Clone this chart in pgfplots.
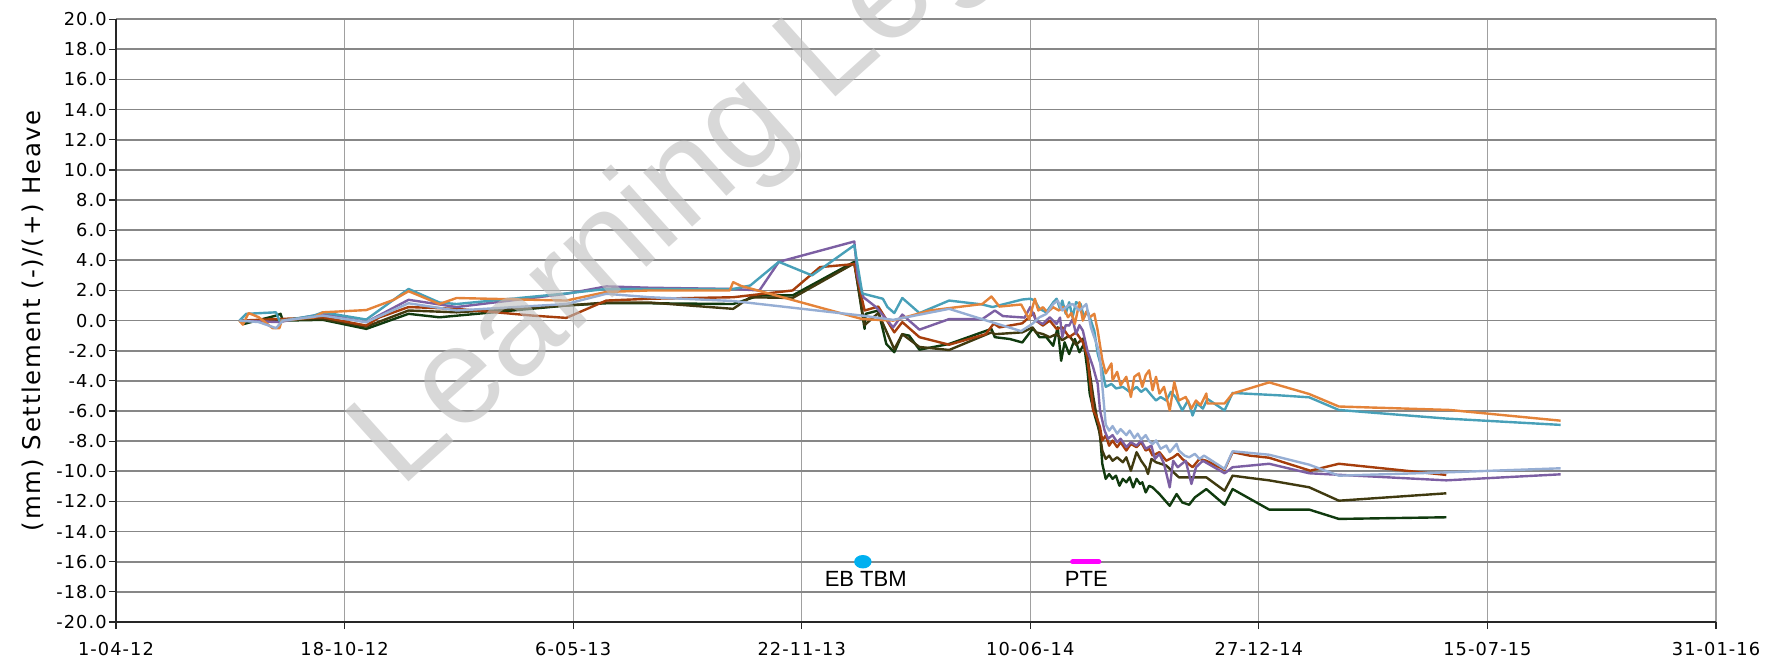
\documentclass[border=0pt]{standalone}
\usepackage{fontspec}
\usepackage{pgfplots}
\pgfplotsset{compat=1.18}
\usetikzlibrary{calc}
\setmainfont{Liberation Sans}
\newfontfamily\tickfont[LetterSpace=6]{DejaVu Sans}
\newfontfamily\labfont[LetterSpace=7]{DejaVu Sans}
\newfontfamily\wmfont{Liberation Sans}
\definecolor{cOrange}{HTML}{E48339}
\definecolor{cTeal}{HTML}{48A0B8}
\definecolor{cPurple}{HTML}{7C5FA3}
\definecolor{cBrown}{HTML}{A63E0C}
\definecolor{cOlive}{HTML}{403A10}
\definecolor{cGreen}{HTML}{103A0E}
\definecolor{cLight}{HTML}{96AED4}
\definecolor{cEB}{HTML}{00B0F0}
\definecolor{cPTE}{HTML}{FF00FF}
\definecolor{hgrid}{RGB}{135,135,135}
\definecolor{vgrid}{RGB}{160,160,160}
\definecolor{wm}{RGB}{190,190,190}
\begin{document}
\begin{tikzpicture}
\begin{axis}[name=ax, at={(0,0)}, anchor=south west, scale only axis,
  width=800pt, height=301.4pt,
  xmin=0, xmax=1400, ymin=-20, ymax=20,
  xtick={0,200,400,600,800,1000,1200,1400},
  xticklabels={1-04-12,18-10-12,6-05-13,22-11-13,10-06-14,27-12-14,15-07-15,31-01-16},
  ytick={-20,-18,-16,-14,-12,-10,-8,-6,-4,-2,0,2,4,6,8,10,12,14,16,18,20},
  yticklabels={-20.0,-18.0,-16.0,-14.0,-12.0,-10.0,-8.0,-6.0,-4.0,-2.0,0.0,2.0,4.0,6.0,8.0,10.0,12.0,14.0,16.0,18.0,20.0},
  axis x line*=bottom, axis y line*=left,
  axis line style={-, black!85, line width=0.7pt},
  tick align=outside, major tick length=3.5pt,
  tick style={black!85, line width=0.6pt},
  xmajorgrids, ymajorgrids,
  x grid style={vgrid, line width=0.6pt},
  y grid style={hgrid, line width=0.85pt},
  ticklabel style={font=\tickfont\fontsize{8.9}{10}\selectfont, text=black},
  xticklabel style={yshift=-3pt},
  yticklabel style={inner xsep=1pt},
  every axis plot/.append style={line width=1.2pt, mark=none, line join=round},
]
% dark green
\addplot[cGreen] coordinates {(108,0) (112,-0.22) (140,0.33) (144,0.45) (146,0) (181,0.05) (219,-0.55) (256,0.45) (283,0.22) (394,1.0) (429,1.15) (467,1.15) (540,1.1) (563,1.67) (592,1.67) (646,3.9) (655,-0.55) (656,0.45) (667,0.67) (674,-1.55) (681,-2.1) (688,-0.9) (694,-1.0) (703,-1.93) (729,-1.55) (766,-0.55) (769,-1.1) (782,-1.22) (793,-1.45) (802,-0.55) (804,-0.67) (808,-1.1) (814,-1.1) (820,-1.67) (824,-0.44) (827,-2.67) (830,-1.44) (834,-2.22) (839,-1.22) (843,-2.1) (847,-1.55) (850,-3.3) (852,-4.84) (856,-6.18) (861,-7.5) (863,-9.5) (866,-10.5) (869,-10.18) (872,-10.5) (875,-10.29) (878,-10.96) (881,-10.5) (884,-10.73) (887,-10.4) (890,-11.07) (893,-10.5) (896,-10.84) (898,-10.73) (901,-11.4) (904,-10.96) (907,-11.07) (913,-11.51) (922,-12.29) (928,-11.51) (933,-12.07) (939,-12.22) (944,-11.73) (954,-11.18) (970,-12.22) (977,-11.18) (1009,-12.54) (1044,-12.54) (1070,-13.16) (1164,-13.05)};
% olive
\addplot[cOlive] coordinates {(108,0) (181,0.1) (219,-0.4) (256,0.67) (298,0.55) (394,1.0) (429,1.2) (467,1.2) (540,0.78) (555,1.55) (592,1.5) (646,3.8) (655,-0.3) (667,0.5) (681,-1.9) (688,-0.9) (703,-1.75) (729,-1.95) (766,-0.78) (769,-0.9) (793,-0.78) (802,-0.45) (805,-0.78) (811,-0.89) (817,-1.1) (823,-0.89) (828,-1.3) (834,-1.0) (840,-1.6) (846,-1.2) (850,-2.4) (855,-5.0) (860,-7.2) (863,-8.62) (866,-9.18) (869,-8.96) (872,-9.3) (876,-9.07) (881,-9.4) (884,-9.07) (888,-9.96) (893,-8.73) (897,-9.3) (901,-9.73) (903,-10.18) (906,-9.18) (910,-9.4) (919,-9.62) (930,-10.4) (945,-10.4) (954,-10.4) (970,-11.29) (977,-10.29) (992,-10.44) (1009,-10.6) (1044,-11.06) (1070,-11.95) (1164,-11.46)};
% brown
\addplot[cBrown] coordinates {(108,0) (181,0.22) (219,-0.33) (230,0.2) (256,0.9) (298,0.78) (365,0.33) (394,0.18) (429,1.33) (467,1.45) (540,1.55) (592,2.0) (616,3.55) (646,3.75) (655,0.67) (667,0.93) (681,-0.78) (688,-0.1) (703,-1.1) (729,-1.6) (761,-0.9) (768,-0.2) (773,-0.45) (793,-0.18) (803,0.5) (805,0) (811,-0.33) (817,0) (823,-0.55) (828,-0.44) (834,-1.1) (840,-0.78) (846,-1.44) (850,-2.44) (855,-5.96) (858,-6.4) (861,-7.07) (863,-7.96) (866,-7.62) (869,-8.3) (872,-7.96) (876,-8.4) (879,-8.07) (884,-8.62) (888,-8.18) (893,-8.4) (897,-8.07) (901,-8.62) (904,-8.51) (907,-8.96) (913,-8.73) (919,-9.3) (925,-9.07) (929,-8.84) (933,-9.18) (942,-9.73) (948,-9.18) (954,-9.3) (970,-9.9) (977,-8.73) (992,-8.96) (1009,-9.1) (1045,-9.96) (1070,-9.5) (1164,-10.24)};
% purple
\addplot[cPurple] coordinates {(108,0) (143,-0.1) (181,0.45) (219,-0.1) (256,1.38) (298,0.9) (394,1.78) (429,2.27) (467,2.18) (540,2.1) (563,2.0) (580,3.9) (646,5.25) (649,2.9) (654,1.55) (665,0.9) (680,-0.45) (688,0.4) (703,-0.6) (729,0.1) (758,0.1) (769,0.67) (776,0.3) (795,0.2) (800,0.9) (805,0) (811,-0.22) (817,0.22) (823,-0.22) (826,0.2) (828,-1.1) (831,-0.3) (834,-0.33) (837,0.1) (840,-0.89) (843,-0.3) (846,-0.67) (850,-2.0) (855,-3.1) (859,-4.2) (861,-5.96) (865,-7.3) (868,-7.84) (872,-7.6) (876,-8.07) (879,-7.84) (884,-8.4) (888,-8.07) (893,-8.3) (897,-7.96) (901,-8.5) (906,-8.3) (909,-9.18) (913,-8.84) (917,-9.5) (922,-11.07) (925,-9.3) (929,-9.73) (936,-9.3) (941,-10.84) (945,-9.73) (951,-9.3) (970,-10.13) (977,-9.73) (1009,-9.5) (1044,-10.13) (1164,-10.6) (1264,-10.2)};
% teal
\addplot[cTeal] coordinates {(108,0) (114,0.45) (140,0.55) (143,0) (150,0.05) (173,0.33) (181,0.55) (219,0.07) (256,2.1) (283,1.2) (298,1.1) (394,1.8) (429,2.1) (467,2.1) (540,2.1) (555,2.33) (580,3.9) (609,3.0) (646,5.0) (653,1.8) (671,1.45) (675,0.9) (681,0.5) (688,1.5) (703,0.5) (729,1.33) (758,1.07) (767,0.9) (793,1.4) (800,1.45) (804,1.33) (808,0.78) (814,0.55) (820,1.2) (823,1.45) (826,0.78) (828,1.33) (831,0.45) (834,1.22) (837,0.22) (840,1.22) (844,1.1) (847,0.22) (850,0.67) (853,0) (856,-0.67) (859,-2.2) (863,-3.3) (866,-4.4) (871,-4.2) (875,-4.5) (881,-4.4) (887,-4.73) (893,-4.4) (897,-4.73) (901,-4.5) (906,-4.96) (910,-5.3) (914,-5.07) (919,-5.3) (923,-4.73) (927,-5.07) (933,-5.96) (938,-5.3) (942,-6.3) (946,-5.5) (951,-5.84) (955,-5.2) (970,-5.96) (977,-4.8) (1018,-4.96) (1044,-5.09) (1070,-5.93) (1164,-6.5) (1264,-6.92)};
% orange
\addplot[cOrange] coordinates {(108,0) (111,-0.27) (116,0.5) (125,0.22) (137,-0.5) (143,-0.5) (145,0) (173,0.22) (181,0.55) (219,0.7) (243,1.38) (256,1.95) (283,1.1) (298,1.5) (394,1.33) (429,1.9) (467,2.0) (537,2.0) (540,2.55) (547,2.3) (653,0.1) (680,0.0) (712,0.67) (758,1.1) (766,1.6) (773,0.93) (792,1.07) (799,0.1) (804,1.45) (807,0.67) (811,0.89) (815,0.55) (820,0.89) (825,0.67) (829,0.9) (833,0.22) (836,0.5) (839,-0.22) (843,1.22) (846,0) (849,0.6) (852,0.22) (856,0.45) (859,-0.67) (863,-2.6) (866,-3.5) (871,-2.84) (872,-3.96) (876,-3.4) (879,-4.29) (884,-3.73) (888,-5.07) (891,-3.73) (895,-3.5) (898,-4.4) (901,-3.62) (904,-3.3) (907,-4.62) (910,-3.73) (913,-4.84) (917,-4.4) (922,-5.96) (926,-4.07) (930,-5.3) (936,-5.07) (941,-5.84) (945,-5.3) (949,-5.62) (954,-4.84) (955,-5.5) (970,-5.5) (977,-4.84) (1009,-4.1) (1044,-4.87) (1070,-5.7) (1167,-5.93) (1264,-6.64)};
% light blue
\addplot[cLight] coordinates {(108,0) (125,-0.1) (140,-0.5) (146,0) (181,0.33) (219,-0.1) (256,1.15) (298,0.67) (394,1.1) (429,1.78) (467,1.55) (540,1.3) (653,0.33) (680,0.05) (729,0.78) (764,-0.05) (792,-0.7) (802,-0.2) (808,0.22) (814,0.44) (820,1.1) (824,1.33) (828,0.67) (833,1.0) (837,1.1) (843,0.67) (849,1.1) (853,-0.44) (859,-1.78) (861,-2.6) (866,-6.9) (869,-7.3) (872,-7.0) (876,-7.5) (879,-7.2) (884,-7.6) (887,-7.3) (891,-7.8) (894,-7.5) (897,-7.9) (901,-7.6) (904,-8.0) (907,-8.2) (910,-7.95) (914,-8.51) (919,-8.29) (922,-8.73) (928,-8.18) (930,-8.62) (935,-8.96) (939,-9.07) (944,-8.84) (948,-9.18) (952,-8.96) (970,-9.84) (977,-8.67) (1009,-8.9) (1044,-9.56) (1070,-10.29) (1164,-10.07) (1264,-9.8)};
% event markers
\addplot[only marks, mark=*, mark size=2.75pt, color=cEB, mark options={xscale=1.36}] coordinates {(653.5,-16)};
\addplot[cPTE, line width=2.5pt, line cap=round] coordinates {(837,-16) (860,-16)};
\node[font=\fontsize{11}{13}\selectfont] at (axis cs:656,-17.15) {EB TBM};
\node[font=\fontsize{11}{13}\selectfont] at (axis cs:849,-17.15) {PTE};
\end{axis}
\node[rotate=42, anchor=base west, inner sep=0pt, font=\wmfont\fontsize{69}{74}\selectfont, text=wm, text opacity=0.6] at ($(ax.south west)+(142pt,66pt)$) {Learning Legacy};
\node[rotate=90, font=\labfont\fontsize{12.2}{14}\selectfont] at ($(ax.west)+(-41.7pt,0)$) {(mm) Settlement (-)/(+) Heave};
\pgfresetboundingbox
\path ($(ax.south west)+(-58pt,-21.5pt)$) rectangle ($(ax.north east)+(27pt,9.6pt)$);
\end{tikzpicture}
\end{document}
